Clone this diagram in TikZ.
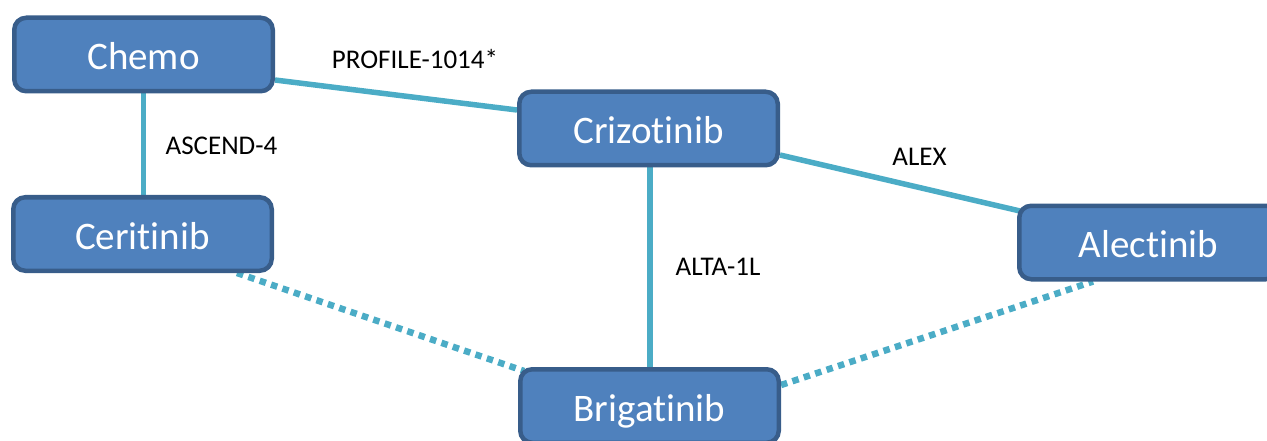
\documentclass[tikz,border=0pt]{standalone}
\usepackage{fontspec}
\setmainfont{Carlito}[Ligatures={NoCommon}]
\usetikzlibrary{calc,backgrounds}
\definecolor{boxfill}{HTML}{4F81BD}
\definecolor{boxline}{HTML}{385D8A}
\definecolor{link}{HTML}{4BACC6}
\tikzset{
  drug/.style={draw=boxline, fill=boxfill, line width=4.5pt, rounded corners=12pt,
    minimum width=258.5pt, minimum height=73.5pt, inner sep=0pt,
    text=white, font=\fontsize{39}{44}\selectfont,
    text height=30pt, text depth=0pt},
  trial/.style={font=\fontsize{27}{32}\selectfont, text=black, anchor=base, inner sep=0pt},
  direct/.style={draw=link, line width=5.5pt},
  indirect/.style={draw=link, line width=6.5pt, dash pattern=on 6.5pt off 5.5pt}
}
\begin{document}
\begin{tikzpicture}[x=1pt,y=-1pt]
\useasboundingbox (0,0) rectangle (1267,441);
\clip (0,0) rectangle (1267,441);

% treatments
\node[drug] (chemo) at (143.5,54.5) {Chemo};
\node[drug] (criz)  at (648.5,128.5) {Crizotinib};
\node[drug] (cer)   at (142.5,234) {Ceritinib};
\node[drug] (alec)  at (1148.5,242.5) {Alectinib};
\node[drug] (brig)  at (649.5,406) {Brigatinib};

% trial connections
\begin{pgfonlayer}{background}
  \draw[direct] ($(chemo.east)+(0,25.5)$) -- ($(criz.west)+(0,-18.5)$);
  \draw[direct] (chemo.south) -- (chemo.south |- cer.north);
  \draw[direct] ($(criz.east)+(0,26.5)$) -- ($(alec.west)+(3,-31.5)$);
  \draw[direct] ($(criz.south)+(1.5,0)$) coordinate (cb) -- (cb |- brig.north);
  \draw[indirect] ($(cer.south)+(94.5,0)$) -- ($(brig.north west)+(6,4)$);
  \draw[indirect] ($(brig.east)+(0,-21)$) -- ($(alec.south)+(-55.5,0)$);
\end{pgfonlayer}

% trial names
\node[trial] (t1) at (415,69) {PROFILE-1014*};
\node[trial] (t2) at (221.5,155) {ASCEND-4};
\node[trial] (t3) at (919.5,166) {ALEX};
\node[trial] (t4) at (718,275) {ALTA-1L};
\end{tikzpicture}
\end{document}
